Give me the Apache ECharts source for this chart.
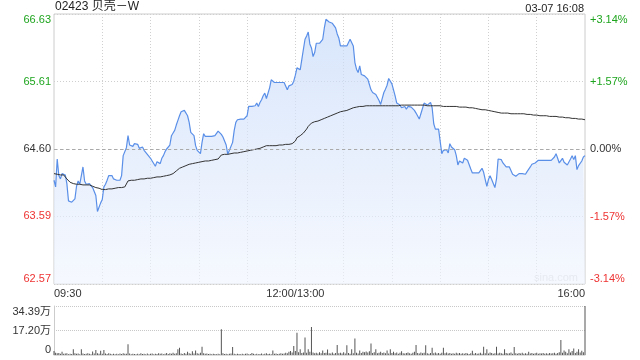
<!DOCTYPE html>
<html>
<head>
<meta charset="utf-8">
<script src="https://cdn.jsdelivr.net/npm/echarts@6/dist/echarts.min.js"></script>
<style>html,body{margin:0;padding:0;background:#fff;}#c{width:640px;height:360px;}</style>
</head>
<body>
<div id="c"></div>
<script>
const titleText = '02423 贝壳－W';
const dateText = '03-07 16:08';
const prevClose = 64.60;
const priceTicks = [62.57, 63.59, 64.60, 65.61, 66.63];
const pctMin = -3.14, pctMax = 3.14, pctInterval = 1.57;
const volMax = 343900, volInterval = 171950;
const timeTickLabels = {0: '09:30', 150: '12:00/13:00', 330: '16:00'};

// minute categories 09:30-12:00, 13:00-16:00
const times = [];
(function(){
  for (let m = 9*60+30; m <= 12*60; m++) times.push(String(Math.floor(m/60)).padStart(2,'0')+':'+String(m%60).padStart(2,'0'));
  for (let m = 13*60+1; m <= 16*60; m++) times.push(String(Math.floor(m/60)).padStart(2,'0')+':'+String(m%60).padStart(2,'0'));
})();

const price = [
64.13,64.03,64.45,64.20,64.15,64.23,64.23,64.21,64.08,63.82,
63.80,63.80,63.83,63.85,64.04,64.12,64.07,64.20,64.33,64.12,
64.07,64.07,64.08,64.05,64.02,63.96,63.90,63.66,63.68,63.79,
63.84,64.03,64.07,64.13,64.20,64.22,64.20,64.15,64.18,64.13,
64.13,64.13,64.20,64.50,64.47,64.62,64.80,64.66,64.68,64.64,
64.68,64.67,64.67,64.61,64.62,64.63,64.58,64.55,64.52,64.51,
64.46,64.42,64.40,64.34,64.41,64.39,64.38,64.46,64.50,64.56,
64.60,64.63,64.66,64.80,64.84,64.88,64.96,65.03,65.10,65.16,
65.18,65.18,65.15,65.10,65.00,64.85,64.83,64.80,64.65,64.58,
64.56,64.53,64.70,64.83,64.79,64.82,64.79,64.82,64.79,64.78,
64.80,64.81,64.87,64.90,64.82,64.78,64.78,64.66,64.52,64.58,
64.59,64.70,64.88,65.00,65.04,65.05,65.05,65.05,65.05,65.06,
65.10,65.24,65.24,65.24,65.24,65.25,65.29,65.24,65.30,65.34,
65.40,65.44,65.36,65.37,65.52,65.64,65.61,65.60,65.60,65.60,
65.60,65.60,65.60,65.60,65.59,65.49,65.55,65.55,65.57,65.62,
65.71,65.82,65.84,65.79,65.76,66.10,66.25,66.30,66.36,66.18,
66.12,65.99,66.05,66.19,66.19,66.19,66.20,66.25,66.42,66.55,
66.57,66.51,66.52,66.49,66.49,66.42,66.33,66.27,66.15,66.18,
66.15,66.15,66.15,66.17,66.25,66.28,66.15,65.90,65.80,65.75,
65.85,65.72,65.71,65.70,65.67,65.65,65.57,65.49,65.45,65.43,
65.42,65.42,65.33,65.27,65.36,65.45,65.50,65.56,65.66,65.64,
65.58,65.55,65.40,65.29,65.29,65.26,65.22,65.22,65.24,65.20,
65.24,65.21,65.23,65.22,65.18,65.14,65.11,65.05,65.13,65.13,
65.29,65.26,65.26,65.29,65.30,65.22,64.98,64.90,64.90,64.90,
64.93,64.53,64.58,64.56,64.59,64.54,64.68,64.63,64.66,64.59,
64.50,64.36,64.42,64.39,64.39,64.46,64.45,64.43,64.42,64.30,
64.24,64.24,64.24,64.24,64.24,64.24,64.31,64.25,64.14,64.04,
64.14,64.20,64.14,64.15,64.02,64.15,64.45,64.43,64.44,64.39,
64.38,64.33,64.34,64.33,64.31,64.22,64.19,64.19,64.21,64.23,
64.23,64.23,64.20,64.22,64.26,64.29,64.33,64.37,64.37,64.39,
64.41,64.43,64.43,64.43,64.43,64.43,64.43,64.43,64.43,64.43,
64.44,64.48,64.53,64.46,64.39,64.42,64.46,64.40,64.37,64.36,
64.34,64.45,64.50,64.44,64.50,64.29,64.35,64.34,64.42,64.48,
64.50
];

const avgPrice = [
64.23,64.22,64.22,64.21,64.21,64.21,64.21,64.20,64.15,64.12,
64.10,64.08,64.08,64.07,64.07,64.07,64.07,64.06,64.06,64.06,
64.06,64.06,64.06,64.05,64.04,64.03,64.02,64.01,64.01,64.00,
63.99,63.99,63.99,64.00,64.00,64.00,64.00,64.01,64.01,64.01,
64.02,64.02,64.02,64.03,64.03,64.05,64.12,64.12,64.13,64.13,
64.13,64.14,64.14,64.14,64.15,64.15,64.15,64.16,64.16,64.16,
64.16,64.17,64.17,64.17,64.18,64.18,64.18,64.19,64.19,64.19,
64.20,64.20,64.21,64.22,64.23,64.25,64.27,64.30,64.31,64.32,
64.33,64.34,64.35,64.36,64.37,64.38,64.38,64.39,64.39,64.40,
64.40,64.41,64.41,64.41,64.42,64.42,64.42,64.43,64.43,64.44,
64.44,64.44,64.45,64.45,64.51,64.51,64.52,64.52,64.52,64.52,
64.53,64.53,64.54,64.54,64.54,64.55,64.55,64.55,64.56,64.56,
64.57,64.57,64.58,64.58,64.59,64.59,64.60,64.60,64.61,64.62,
64.63,64.64,64.65,64.65,64.65,64.65,64.65,64.65,64.65,64.66,
64.66,64.66,64.66,64.66,64.67,64.67,64.67,64.67,64.68,64.70,
64.72,64.77,64.79,64.80,64.82,64.84,64.87,64.90,64.94,64.97,
64.99,65.00,65.01,65.02,65.02,65.03,65.04,65.05,65.06,65.07,
65.08,65.09,65.10,65.11,65.12,65.13,65.14,65.15,65.16,65.16,
65.17,65.17,65.18,65.19,65.20,65.21,65.22,65.22,65.23,65.23,
65.24,65.24,65.24,65.24,65.25,65.25,65.25,65.25,65.25,65.25,
65.25,65.25,65.25,65.25,65.25,65.25,65.25,65.25,65.25,65.25,
65.25,65.25,65.25,65.25,65.25,65.26,65.26,65.26,65.26,65.26,
65.26,65.26,65.26,65.26,65.26,65.26,65.26,65.26,65.26,65.26,
65.26,65.25,65.25,65.25,65.25,65.25,65.25,65.25,65.25,65.25,
65.25,65.24,65.24,65.24,65.24,65.24,65.24,65.24,65.24,65.24,
65.24,65.23,65.23,65.23,65.23,65.23,65.23,65.23,65.22,65.22,
65.22,65.21,65.21,65.20,65.20,65.20,65.19,65.19,65.19,65.18,
65.18,65.17,65.17,65.16,65.16,65.15,65.15,65.14,65.14,65.14,
65.14,65.14,65.14,65.14,65.13,65.13,65.13,65.13,65.13,65.13,
65.13,65.13,65.13,65.12,65.12,65.12,65.12,65.11,65.11,65.11,
65.11,65.11,65.10,65.10,65.10,65.10,65.10,65.09,65.09,65.09,
65.09,65.09,65.09,65.08,65.08,65.08,65.08,65.08,65.07,65.07,
65.07,65.07,65.06,65.06,65.06,65.06,65.05,65.05,65.05,65.04,
65.04
];

const volume = [
28000,15000,12000,14000,9000,22000,8000,11000,13000,6000,
9000,7000,40000,12000,8000,10000,6000,40000,11000,7000,
9000,13000,8000,6000,24000,10000,35000,12000,8000,30000,
9000,35000,11000,7000,13000,8000,6000,9000,5000,8000,
6000,10000,7000,12000,9000,8000,75000,11000,6000,9000,
7000,5000,8000,6000,12000,7000,9000,5000,10000,6000,
8000,11000,6000,9000,7000,13000,8000,10000,6000,9000,
14000,7000,12000,9000,16000,8000,12000,40000,51000,10000,
7000,14000,9000,22000,12000,8000,26000,10000,32000,12000,
9000,16000,58000,13000,8000,11000,7000,9000,6000,8000,
7000,6000,9000,5000,180000,12000,7000,9000,6000,8000,
10000,56000,9000,6000,8000,7000,5000,9000,6000,8000,
11000,6000,7000,14000,8000,6000,9000,5000,7000,10000,
6000,8000,12000,7000,9000,6000,32000,8000,11000,7000,
9000,13000,8000,10000,16000,12000,22000,28000,18000,63000,
28000,157000,20000,40000,14000,18000,122000,16000,40000,22000,
197000,18000,12000,15000,10000,20000,12000,32000,14000,16000,
38000,12000,10000,18000,9000,14000,70000,12000,16000,10000,
20000,11000,68000,14000,9000,40000,12000,115000,16000,10000,
32000,14000,22000,20000,24000,18000,26000,80000,14000,20000,
40000,12000,16000,22000,14000,18000,12000,32000,10000,40000,
14000,22000,12000,18000,9000,16000,26000,12000,10000,14000,
18000,12000,9000,16000,22000,70000,14000,10000,18000,12000,
16000,68000,12000,9000,14000,51000,12000,18000,10000,14000,
9000,16000,51000,12000,18000,10000,14000,8000,12000,9000,
16000,10000,14000,8000,12000,9000,14000,10000,7000,12000,
30000,9000,14000,8000,11000,16000,9000,58000,12000,40000,
10000,18000,14000,9000,12000,58000,10000,16000,12000,9000,
40000,14000,10000,12000,18000,9000,56000,12000,8000,14000,
10000,16000,9000,12000,8000,22000,10000,14000,9000,12000,
16000,8000,12000,10000,14000,9000,12000,8000,14000,10000,
12000,16000,9000,14000,20000,105000,16000,32000,22000,12000,
40000,18000,28000,45000,14000,22000,40000,18000,30000,20000,
343900
];

const FONT = '"Liberation Sans", Arial, "Noto Sans CJK SC", sans-serif';
const GREEN = '#1ea51e', RED = '#ee3333', DARK = '#333';

const chart = echarts.init(document.getElementById('c'), null, {renderer: 'canvas'});
chart.setOption({
  animation: false,
  backgroundColor: '#fff',
  textStyle: {fontFamily: FONT},
  grid: [
    {left: 54, right: 55, top: 14, height: 270, show: true, borderColor: '#ccc', borderWidth: 1, backgroundColor: 'transparent'},
    {left: 54, right: 55, top: 306, height: 49}
  ],
  graphic: [
    {type: 'text', left: 55, top: 1, style: {text: titleText, font: '12px ' + FONT, fill: '#222'}},
    {type: 'text', right: 56, top: 3, style: {text: dateText, font: '11px ' + FONT, fill: '#222'}},
    {type: 'text', left: 534, top: 272, z: 0, style: {text: 'sina.com', font: '11px ' + FONT, fill: '#d8d8d8'}}
  ],
  xAxis: [
    {
      type: 'category', gridIndex: 0, data: times, boundaryGap: false,
      axisLine: {show: false}, axisTick: {show: false},
      axisLabel: {
        interval: (i) => timeTickLabels[i] !== undefined,
        formatter: (v, i) => timeTickLabels[i] || '',
        color: DARK, fontSize: 11, margin: 4,
        alignMinLabel: 'left', alignMaxLabel: 'right'
      },
      splitLine: {show: true, interval: (i) => i % 30 === 0 && i !== 0 && i !== 330,
        lineStyle: {color: '#d0d0d0', type: [1, 2], width: 1}}
    },
    {
      type: 'category', gridIndex: 1, data: times, boundaryGap: false,
      axisLine: {show: true, lineStyle: {color: '#ddd'}}, axisTick: {show: false},
      axisLabel: {show: false}, splitLine: {show: false}
    }
  ],
  yAxis: [
    {
      type: 'value', gridIndex: 0, position: 'left', min: priceTicks[0], max: priceTicks[4],
      axisLine: {show: false},
      axisTick: {show: false, customValues: priceTicks},
      splitLine: {show: false},
      axisLabel: {
        customValues: priceTicks,
        formatter: (v) => v.toFixed(2),
        color: (v) => v > prevClose + 0.001 ? GREEN : (v < prevClose - 0.001 ? RED : DARK),
        fontSize: 11, margin: 3,
        verticalAlignMinLabel: 'bottom', verticalAlignMaxLabel: 'top'
      }
    },
    {
      type: 'value', gridIndex: 0, position: 'right', min: pctMin, max: pctMax, interval: pctInterval,
      axisLine: {show: false}, axisTick: {show: false},
      splitLine: {show: true, lineStyle: {color: '#cfcfcf', type: [1, 2], width: 1}},
      axisLabel: {
        formatter: (v) => (v > 0.0001 ? '+' : '') + (Math.abs(v) < 0.0001 ? 0 : v).toFixed(2) + '%',
        color: (v) => v > 0.0001 ? GREEN : (v < -0.0001 ? RED : DARK),
        fontSize: 11, margin: 5,
        verticalAlignMinLabel: 'bottom', verticalAlignMaxLabel: 'top'
      }
    },
    {
      type: 'value', gridIndex: 1, min: 0, max: volMax, interval: volInterval,
      axisLine: {show: true, lineStyle: {color: '#ccc'}}, axisTick: {show: false},
      splitLine: {show: true, lineStyle: {color: '#c8c8c8', type: [1, 1], width: 1}},
      axisLabel: {
        formatter: (v) => v === 0 ? '0' : (v / 10000).toFixed(2) + '万',
        color: DARK, fontSize: 11, margin: 3,
        verticalAlignMinLabel: 'bottom', verticalAlignMaxLabel: 'top'
      }
    }
  ],
  series: [
    {
      name: 'price', type: 'line', xAxisIndex: 0, yAxisIndex: 0, data: price,
      showSymbol: false, symbol: 'none', z: 3,
      lineStyle: {color: '#5a8fe8', width: 1.2},
      areaStyle: {
        origin: 'start',
        color: new echarts.graphic.LinearGradient(0, 0, 0, 1, [
          {offset: 0, color: 'rgba(196,216,249,0.95)'},
          {offset: 1, color: 'rgba(240,245,254,0.9)'}
        ])
      },
      markLine: {
        silent: true, symbol: ['none', 'none'], label: {show: false},
        lineStyle: {color: '#aaa', type: [3, 3], width: 1},
        data: [{yAxis: prevClose}]
      }
    },
    {
      name: 'avg', type: 'line', xAxisIndex: 0, yAxisIndex: 0, data: avgPrice,
      showSymbol: false, symbol: 'none', z: 4,
      lineStyle: {color: '#333', width: 1}
    },
    {
      name: 'volume', type: 'bar', xAxisIndex: 1, yAxisIndex: 2, data: volume,
      barWidth: 1, itemStyle: {color: '#555'}
    }
  ]
});
</script>
</body>
</html>
